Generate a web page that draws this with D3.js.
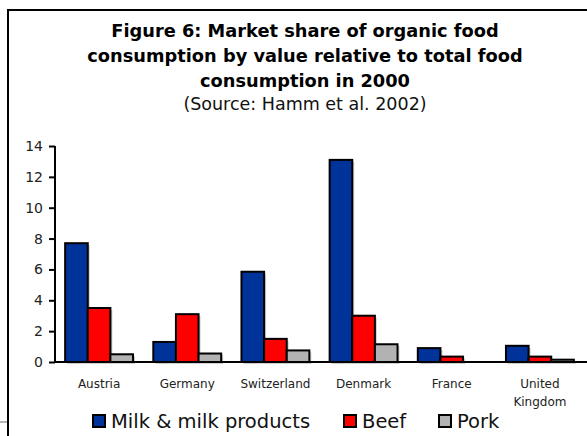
<!DOCTYPE html>
<html><head><meta charset="utf-8">
<script src="https://cdn.jsdelivr.net/npm/d3@7"></script>
<style>html,body{margin:0;padding:0;background:#fff;}svg{display:block;}</style>
</head><body>
<script>
const categories = ["Austria","Germany","Switzerland","Denmark","France","United Kingdom"];
const seriesNames = ["Milk & milk products","Beef","Pork"];
const milk = [7.7, 1.3, 5.85, 13.1, 0.9, 1.05];
const beef = [3.5, 3.1, 1.5, 3.0, 0.35, 0.35];
const pork = [0.5, 0.55, 0.75, 1.15, 0, 0.15];
const yTicks = [0,2,4,6,8,10,12,14];
const colors = ["#003399","#FF0000","#B2B2B2"];
const titleLines = ["Figure 6: Market share of organic food","consumption by value relative to total food","consumption in 2000"];
const subtitle = "(Source: Hamm et al. 2002)";

const W=587,H=436;
const font="DejaVu Sans";
const svg=d3.select("body").append("svg").attr("width",W).attr("height",H);
svg.append("rect").attr("width",W).attr("height",H).attr("fill","#fff");
// frame
svg.append("rect").attr("x",8).attr("y",10).attr("width",620).attr("height",500)
  .attr("fill","none").attr("stroke","#000").attr("stroke-width",2);
svg.append("line").attr("x1",0).attr("x2",7).attr("y1",422).attr("y2",422).attr("stroke","#b4b4b4").attr("stroke-width",2);

// title
const tcx=305;
titleLines.forEach((t,i)=>{
  svg.append("text").attr("x",tcx).attr("y",37+i*25).attr("text-anchor","middle")
    .attr("font-family",font).attr("font-weight","bold").attr("font-size",17.8).attr("fill","#000").text(t);
});
svg.append("text").attr("x",tcx).attr("y",110).attr("text-anchor","middle")
  .attr("font-family",font).attr("font-size",17.5).attr("fill","#111").text(subtitle);

const data = categories.map((c,i)=>({cat:c, vals:[milk[i],beef[i],pork[i]]}));
const x=d3.scaleBand().domain(categories).range([55,584]).paddingInner(0.23).paddingOuter(0.115);
const xs=d3.scaleBand().domain(seriesNames).range([0,x.bandwidth()]);
const y=d3.scaleLinear().domain([0,14]).range([362,146]);

// bars
const g=svg.append("g");
data.forEach(d=>{
  d.vals.forEach((v,j)=>{
    const bx=x(d.cat)+xs(seriesNames[j]);
    g.append("rect").attr("x",bx+2).attr("y",y(v)+2).attr("width",xs.bandwidth()).attr("height",y(0)-y(v))
      .attr("fill","#d0d0d0");
  });
  d.vals.forEach((v,j)=>{
    const bx=x(d.cat)+xs(seriesNames[j]);
    g.append("rect").attr("x",bx).attr("y",y(v)).attr("width",xs.bandwidth()).attr("height",y(0)-y(v))
      .attr("fill",colors[j]).attr("stroke","#000").attr("stroke-width",2);
  });
});

// y axis
const ya=svg.append("g").attr("transform","translate(55,0)")
  .call(d3.axisLeft(y).tickValues(yTicks).tickSize(6).tickPadding(6).tickFormat(d3.format("d")));
ya.select(".domain").attr("stroke","#000").attr("stroke-width",2).attr("d","M0,146V362");
ya.selectAll(".tick line").attr("stroke","#000").attr("stroke-width",2);
ya.selectAll(".tick text").attr("font-family",font).attr("font-size",14).attr("fill","#222");

// x axis line
svg.append("line").attr("x1",54).attr("x2",W).attr("y1",y(0)).attr("y2",y(0)).attr("stroke","#000").attr("stroke-width",2);

// category labels
data.forEach(d=>{
  const words = d.cat==="United Kingdom" ? ["United","Kingdom"] : [d.cat];
  const t=svg.append("text").attr("text-anchor","middle").attr("font-family",font).attr("font-size",12).attr("fill","#222");
  words.forEach((w,k)=>{
    t.append("tspan").attr("x",x(d.cat)+x.bandwidth()/2).attr("y",388+k*18).text(w);
  });
});

// legend
const legX=[92,343,438];
seriesNames.forEach((s,j)=>{
  svg.append("rect").attr("x",legX[j]+1).attr("y",415).attr("width",12).attr("height",12)
    .attr("fill",colors[j]).attr("stroke","#000").attr("stroke-width",2);
  svg.append("text").attr("x",legX[j]+19).attr("y",428).attr("font-family",font).attr("font-size",19.5).attr("fill","#111").text(s);
});
</script>
</body></html>
